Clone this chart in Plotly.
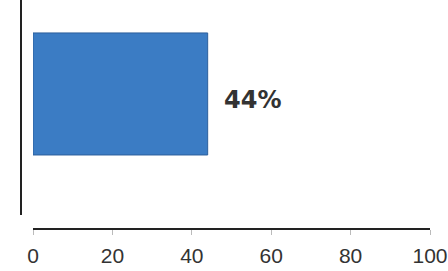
import plotly.graph_objects as go

categories = [""]
values = [44]
labels = ["44%"]
x_ticks = [0, 20, 40, 60, 80, 100]

W, H = 448, 271

fig = go.Figure()
fig.add_trace(go.Bar(
    x=values, y=[0], orientation="h", width=1.0,
    marker=dict(color="#3b7cc4", line=dict(color="#2c5f9c", width=1)),
    hoverinfo="skip",
))
fig.add_annotation(
    x=values[0], y=0, xref="x", yref="y", text=labels[0], showarrow=False,
    xanchor="left", yanchor="middle", xshift=14, yshift=-6,
    font=dict(family="DejaVu Sans", size=24, color="#333333", weight="bold"),
)

fig.update_layout(
    width=W, height=H, margin=dict(l=0, r=0, t=0, b=0, autoexpand=False),
    paper_bgcolor="white", plot_bgcolor="white", showlegend=False,
    xaxis=dict(
        domain=[33 / W, 430 / W], range=[0, 100], tickvals=x_ticks,
        anchor="free", position=(H - 229) / H, automargin=False,
        showline=True, linecolor="#222222", linewidth=1.5,
        ticks="outside", ticklen=5, tickcolor="#bbbbbb", tickwidth=1,
        showgrid=False, zeroline=False, ticklabelstandoff=3,
        ticklabeloverflow="allow",
        tickfont=dict(family="Liberation Sans, Arial", size=21, color="#333333"),
    ),
    yaxis=dict(
        domain=[(H - 215) / H, 1.0], range=[-0.992, 0.770],
        anchor="free", position=21 / W, automargin=False,
        showline=True, linecolor="#222222", linewidth=2,
        showticklabels=False, ticks="", showgrid=False, zeroline=False,
    ),
)
fig.write_html(
    "out.html",
    config={"displayModeBar": False},
    post_script="document.body.style.margin='0';document.body.style.overflow='hidden';",
)
